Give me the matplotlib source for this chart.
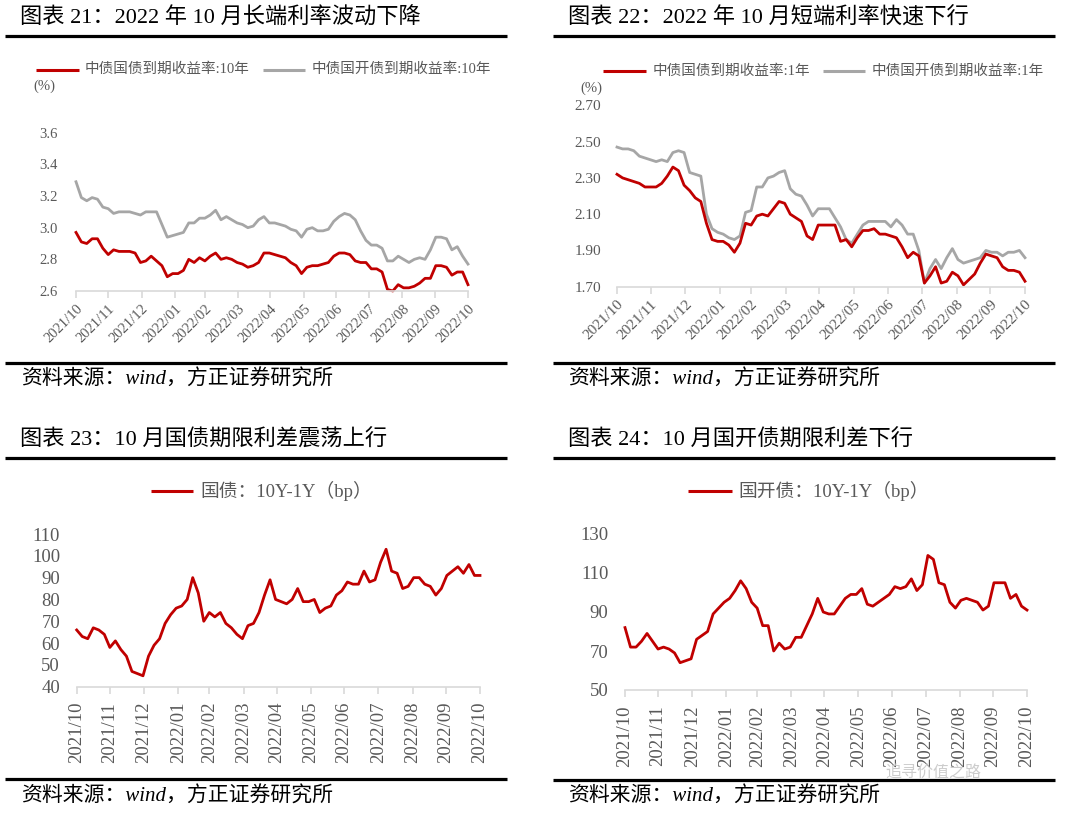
import matplotlib
matplotlib.use('Agg')
import matplotlib.pyplot as plt
from matplotlib.lines import Line2D
import pandas as pd

W, H = 1080, 818

# ---------------- data ----------------
dates = pd.date_range('2021-10-31', '2022-10-31', freq='5D')
month_ticks = pd.date_range('2021-10-31', periods=13, freq=pd.offsets.MonthEnd())
month_labels = ['2021/10', '2021/11', '2021/12', '2022/01', '2022/02', '2022/03',
                '2022/04', '2022/05', '2022/06', '2022/07', '2022/08', '2022/09',
                '2022/10']

cgb_10y = [2.97, 2.91, 2.90, 2.93, 2.93, 2.87, 2.83, 2.86, 2.85, 2.85,
           2.85, 2.84, 2.78, 2.79, 2.82, 2.79, 2.76, 2.69, 2.71, 2.71,
           2.73, 2.80, 2.78, 2.81, 2.79, 2.82, 2.84, 2.80, 2.81, 2.80,
           2.78, 2.77, 2.75, 2.76, 2.78, 2.84, 2.84, 2.83, 2.82, 2.81,
           2.78, 2.76, 2.71, 2.75, 2.76, 2.76, 2.77, 2.78, 2.82, 2.84,
           2.84, 2.83, 2.79, 2.78, 2.78, 2.74, 2.74, 2.72, 2.61, 2.60,
           2.64, 2.62, 2.62, 2.63, 2.65, 2.68, 2.68, 2.76, 2.76, 2.75,
           2.70, 2.72, 2.72, 2.64]
cdb_10y = [3.29, 3.19, 3.17, 3.19, 3.18, 3.13, 3.12, 3.09, 3.10, 3.10,
           3.10, 3.09, 3.08, 3.10, 3.10, 3.10, 3.02, 2.94, 2.95, 2.96,
           2.97, 3.03, 3.03, 3.06, 3.06, 3.08, 3.11, 3.05, 3.07, 3.05,
           3.03, 3.02, 3.00, 3.01, 3.05, 3.07, 3.03, 3.03, 3.02, 3.01,
           2.99, 2.98, 2.94, 2.99, 3.00, 2.98, 2.98, 2.99, 3.04, 3.07,
           3.09, 3.08, 3.05, 2.98, 2.92, 2.89, 2.89, 2.87, 2.79, 2.79,
           2.82, 2.80, 2.78, 2.80, 2.81, 2.80, 2.86, 2.94, 2.94, 2.93,
           2.86, 2.88, 2.82, 2.77]

cgb_1y = [2.32, 2.30, 2.29, 2.28, 2.27, 2.25, 2.25, 2.25, 2.27, 2.31,
          2.36, 2.34, 2.26, 2.23, 2.19, 2.17, 2.05, 1.96, 1.95, 1.95,
          1.93, 1.89, 1.94, 2.05, 2.04, 2.09, 2.10, 2.09, 2.13, 2.17,
          2.16, 2.10, 2.08, 2.06, 1.98, 1.96, 2.04, 2.04, 2.04, 2.04,
          1.95, 1.96, 1.92, 1.97, 2.01, 2.01, 2.02, 1.99, 1.99, 1.98,
          1.97, 1.92, 1.86, 1.89, 1.87, 1.72, 1.76, 1.81, 1.72, 1.73,
          1.78, 1.76, 1.71, 1.74, 1.77, 1.83, 1.88, 1.87, 1.86, 1.81,
          1.79, 1.79, 1.78, 1.73]
cdb_1y = [2.47, 2.46, 2.46, 2.45, 2.42, 2.41, 2.40, 2.39, 2.40, 2.39,
          2.44, 2.45, 2.44, 2.33, 2.32, 2.31, 2.10, 2.02, 2.00, 1.99,
          1.97, 1.96, 1.98, 2.11, 2.12, 2.25, 2.25, 2.30, 2.31, 2.33,
          2.34, 2.24, 2.21, 2.20, 2.15, 2.09, 2.13, 2.13, 2.13, 2.08,
          2.03, 1.96, 1.94, 1.99, 2.04, 2.06, 2.06, 2.06, 2.06, 2.03,
          2.07, 2.04, 1.99, 1.99, 1.90, 1.72, 1.80, 1.85, 1.80, 1.86,
          1.91, 1.85, 1.83, 1.84, 1.85, 1.86, 1.90, 1.89, 1.89, 1.87,
          1.89, 1.89, 1.90, 1.86]

spread_cgb = [66, 63, 62, 67, 66, 64, 58, 61, 57, 54,
              47, 46, 45, 54, 59, 62, 69, 73, 76, 77,
              80, 90, 83, 70, 74, 72, 74, 69, 67, 64,
              62, 68, 69, 74, 82, 89, 80, 79, 78, 80,
              85, 79, 79, 80, 74, 76, 77, 82, 84, 88,
              87, 87, 93, 88, 89, 97, 103, 93, 92, 85,
              86, 90, 90, 87, 86, 82, 85, 91, 93, 95,
              92, 96, 91, 91]
spread_cdb = [82, 72, 72, 75, 79, 75, 71, 72, 71, 69,
              64, 65, 66, 76, 78, 80, 89, 92, 95, 97,
              101, 106, 102, 95, 92, 83, 83, 70, 74, 71,
              72, 77, 77, 83, 89, 97, 90, 89, 89, 93,
              97, 99, 99, 102, 94, 93, 95, 97, 99, 103,
              102, 103, 107, 101, 104, 119, 117, 105, 104, 95,
              92, 96, 97, 96, 95, 91, 93, 105, 105, 105,
              97, 99, 93, 91]

titles = ['图表 21：2022 年 10 月长端利率波动下降',
          '图表 22：2022 年 10 月短端利率快速下行',
          '图表 23：10 月国债期限利差震荡上行',
          '图表 24：10 月国开债期限利差下行']
legend_tl = ['中债国债到期收益率:10年', '中债国开债到期收益率:10年']
legend_tr = ['中债国债到期收益率:1年', '中债国开债到期收益率:1年']
legend_bl = '国债：10Y-1Y（bp）'
legend_br = '国开债：10Y-1Y（bp）'
source = '资料来源：wind，方正证券研究所'
watermark = '追寻价值之路'

RED = '#C00000'
GRAY = '#A6A6A6'
TICK = '#595959'
SPINE = '#D9D9D9'
SERIF_CJK = ['Liberation Serif', 'Noto Sans CJK SC']

fig = plt.figure(figsize=(W / 100, H / 100), dpi=100)
fig.patch.set_facecolor('white')


def fx(x):
    return x / W


def fy(y):
    return 1 - y / H


def hline(x0, x1, y, lw=2.3, color='black'):
    fig.add_artist(Line2D([fx(x0), fx(x1)], [fy(y), fy(y)], color=color,
                          lw=lw, transform=fig.transFigure, solid_capstyle='butt'))


def ftext(x, y, s, **kw):
    fig.text(fx(x), fy(y), s, **kw)


def panel(x0, x1, ytop, ybot, ylim, yticks, yfmt, rot, tfs, ypad, xpad):
    ax = fig.add_axes([fx(x0), fy(ybot), (x1 - x0) / W, (ybot - ytop) / H])
    for s in ['top', 'right', 'left']:
        ax.spines[s].set_visible(False)
    ax.spines['bottom'].set_color(SPINE)
    ax.spines['bottom'].set_linewidth(1.2)
    ax.set_xlim(dates[0], dates[-1])
    ax.set_ylim(*ylim)
    ax.set_yticks(yticks)
    ax.set_yticklabels([yfmt.format(v) for v in yticks], family='Liberation Serif',
                       fontsize=tfs, color=TICK)
    ax.set_xticks(month_ticks)
    if rot == 45:
        ax.set_xticklabels(month_labels, rotation=45, ha='right', va='top',
                           rotation_mode='anchor', family='Liberation Serif',
                           fontsize=tfs, color=TICK)
    else:
        ax.set_xticklabels(month_labels, rotation=90, ha='center', va='top',
                           family='Liberation Serif', fontsize=tfs, color=TICK)
    ax.tick_params(axis='x', length=5, width=1.2, color=SPINE, pad=xpad)
    ax.tick_params(axis='y', length=0, pad=ypad)
    ax.set_facecolor('none')
    return ax


# ---------------- top-left ----------------
ax1 = panel(76, 468, 132.7, 291, (2.6, 3.6), [2.6, 2.8, 3.0, 3.2, 3.4, 3.6],
            '{:.1f}', 45, 10.5, 13, 3)
ax1.plot(dates, cdb_10y, color=GRAY, lw=2.0, clip_on=False)
ax1.plot(dates, cgb_10y, color=RED, lw=2.0, clip_on=False)

# ---------------- top-right ----------------
ax2 = panel(617, 1025, 105.4, 286.7, (1.7, 2.7), [1.7, 1.9, 2.1, 2.3, 2.5, 2.7],
            '{:.2f}', 45, 11, 11.5, 3)
ax2.plot(dates, cdb_1y, color=GRAY, lw=2.0, clip_on=False)
ax2.plot(dates, cgb_1y, color=RED, lw=2.0, clip_on=False)

# ---------------- bottom-left ----------------
ax3 = panel(76.7, 480, 534, 686.7, (40, 110), [40, 50, 60, 70, 80, 90, 100, 110],
            '{:d}', 90, 13.5, 12, 6)
ax3.plot(dates, spread_cgb, color=RED, lw=2.0, clip_on=False)

# ---------------- bottom-right ----------------
ax4 = panel(625, 1027, 534, 690, (50, 130), [50, 70, 90, 110, 130],
            '{:d}', 90, 13.5, 12, 6)
ax4.plot(dates, spread_cdb, color=RED, lw=2.0, clip_on=False)

# ---------------- titles & rules ----------------
for (tx, ty), t in zip([(20, 18), (568, 18), (20, 440.5), (568, 440.5)], titles):
    ftext(tx, ty, t, family=SERIF_CJK, fontsize=16, color='black',
          ha='left', va='center')

for y in (35.5, 363):
    hline(5, 507, y)
    hline(553, 1055, y)
hline(5, 507, 458)
hline(553, 1055, 458)
hline(5, 507, 779)
hline(553, 1055, 780)

for sx, sy in [(21, 380), (568, 380), (21, 797), (568, 797)]:
    ftext(sx, sy, source, family=SERIF_CJK, style='italic', fontsize=15,
          color='black', ha='left', va='center')

# ---------------- legends ----------------
hline(36, 79, 69.5, lw=2.2, color=RED)
ftext(85, 69.5, legend_tl[0], family=SERIF_CJK, fontsize=10.5, color=TICK,
      ha='left', va='center')
hline(263, 305, 69.5, lw=2.2, color=GRAY)
ftext(312, 69.5, legend_tl[1], family=SERIF_CJK, fontsize=10.5, color=TICK,
      ha='left', va='center')
ftext(33, 86, '(%)', family='Liberation Serif', fontsize=10.5, color=TICK,
      ha='left', va='center')

hline(603, 646, 71, lw=2.2, color=RED)
ftext(653, 71, legend_tr[0], family=SERIF_CJK, fontsize=10.5, color=TICK,
      ha='left', va='center')
hline(823, 865, 71, lw=2.2, color=GRAY)
ftext(872, 71, legend_tr[1], family=SERIF_CJK, fontsize=10.5, color=TICK,
      ha='left', va='center')
ftext(580, 88, '(%)', family='Liberation Serif', fontsize=10.5, color=TICK,
      ha='left', va='center')

hline(151, 193, 491, lw=2.2, color=RED)
ftext(200, 491, legend_bl, family=SERIF_CJK, fontsize=13.5, color=TICK,
      ha='left', va='center')
hline(688, 732, 491, lw=2.2, color=RED)
ftext(738, 491, legend_br, family=SERIF_CJK, fontsize=13.5, color=TICK,
      ha='left', va='center')

# watermark (light, tucked just above the bottom rule)
ftext(885, 773.5, watermark, family=['Noto Sans CJK SC'], fontsize=11.5,
      color='#C4C4C4', alpha=0.85, ha='left', va='center', zorder=0)

fig.savefig('out.png', dpi=100, facecolor='white')
